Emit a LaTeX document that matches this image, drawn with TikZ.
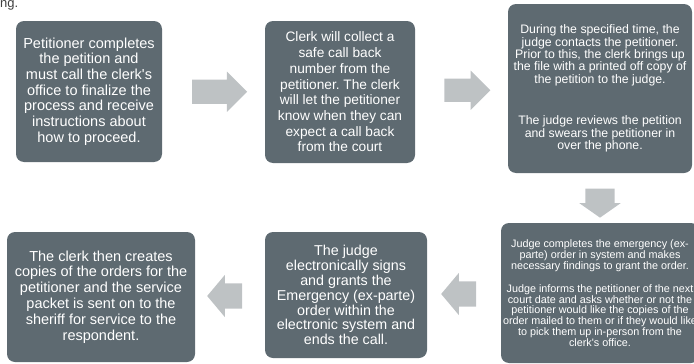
\documentclass[tikz,border=0pt]{standalone}
\usepackage{fontspec}
\setmainfont{Liberation Sans}
\usetikzlibrary{shapes.arrows,calc}
\definecolor{slate}{RGB}{94,106,113}
\definecolor{arrowgray}{RGB}{190,194,196}
\newcommand{\apos}{\textquotesingle}
\frenchspacing

\begin{document}
\begin{tikzpicture}[x=1pt, y=-1pt,
    card/.style = {fill=slate, rounded corners=8pt, text=white, align=center, inner sep=0pt},
    flow/.style = {single arrow, fill=arrowgray, inner xsep=0pt, single arrow tip angle=90, single arrow head extend=8pt}]
    \useasboundingbox (0,0) rectangle (694,364);
    \node[anchor=base west, inner sep=0pt, text=darkgray, font=\fontsize{13}{13}\selectfont] (cut) at (0,7) {ng.};
    % top row
    \node[card, minimum width=146pt, minimum height=141pt, font=\fontsize{14.5}{15.7}\selectfont] (petition) at (89,91.5)
        {Petitioner completes\\the petition and\\must call the clerk\apos s\\office to finalize the\\process and receive\\instructions about\\how to proceed.};
    \node[card, minimum width=150pt, minimum height=142pt, font=\fontsize{13.7}{15.7}\selectfont] (clerk) at (340,92)
        {Clerk will collect a\\safe call back\\number from the\\petitioner. The clerk\\will let the petitioner\\know when they can\\expect a call back\\from the court};
    \node[card, minimum width=184pt, minimum height=169pt, font=\fontsize{12.3}{11.2}\selectfont] (judge) at (600,88.5)
        {During the specified time, the\\judge contacts the petitioner.\\Prior to this, the clerk brings up\\the file with a printed off copy of\\the petition to the judge.\\[29pt]The judge reviews the petition\\and swears the petitioner in\\over the phone.};
    % bottom row
    \node[card, minimum width=198pt, minimum height=140pt, font=\fontsize{10.8}{10.8}\selectfont] (order) at (600,293)
        {Judge completes the emergency (ex-\\parte) order in system and makes\\necessary findings to grant the order.\\[12.5pt]Judge informs the petitioner of the next\\court date and asks whether or not the\\petitioner would like the copies of the\\order mailed to them or if they would like\\to pick them up in-person from the\\clerk\apos s office.};
    \node[card, minimum width=162pt, minimum height=126pt, font=\fontsize{14.3}{14.9}\selectfont] (sign) at (346,295)
        {The judge\\electronically signs\\and grants the\\Emergency (ex-parte)\\order within the\\electronic system and\\ends the call.};
    \node[card, minimum width=188pt, minimum height=130pt, font=\fontsize{14.5}{15.9}\selectfont] (copies) at (101,297)
        {The clerk then creates\\copies of the orders for the\\petitioner and the service\\packet is sent on to the\\sheriff for service to the\\respondent.};
    % arrows between the steps
    \node[flow, inner ysep=12pt, minimum width=40pt, minimum height=55pt] (a1) at ($(petition.east)!.5!(clerk.west)$) {};
    \node[flow, inner ysep=11.5pt, minimum width=39pt, minimum height=46pt] (a2) at ($(clerk.east)!.5!(judge.west)$) {};
    \node[flow, shape border rotate=270, single arrow tip angle=110, single arrow head extend=6pt,
        inner xsep=14.5pt, inner ysep=0pt, minimum width=41pt, minimum height=29pt] (a3) at ($(judge.south)!.5!(order.north)$) {};
    \node[flow, shape border rotate=180, single arrow tip angle=100, single arrow head extend=8.5pt,
        inner ysep=12.5pt, minimum width=42pt, minimum height=35pt] (a4) at ($(order.west)!.5!(sign.east)$) {};
    \node[flow, shape border rotate=180, single arrow tip angle=100, single arrow head extend=8.5pt,
        inner ysep=12.5pt, minimum width=42pt, minimum height=35pt] (a5) at ($(sign.west)!.5!(copies.east)$) {};
\end{tikzpicture}
\end{document}
